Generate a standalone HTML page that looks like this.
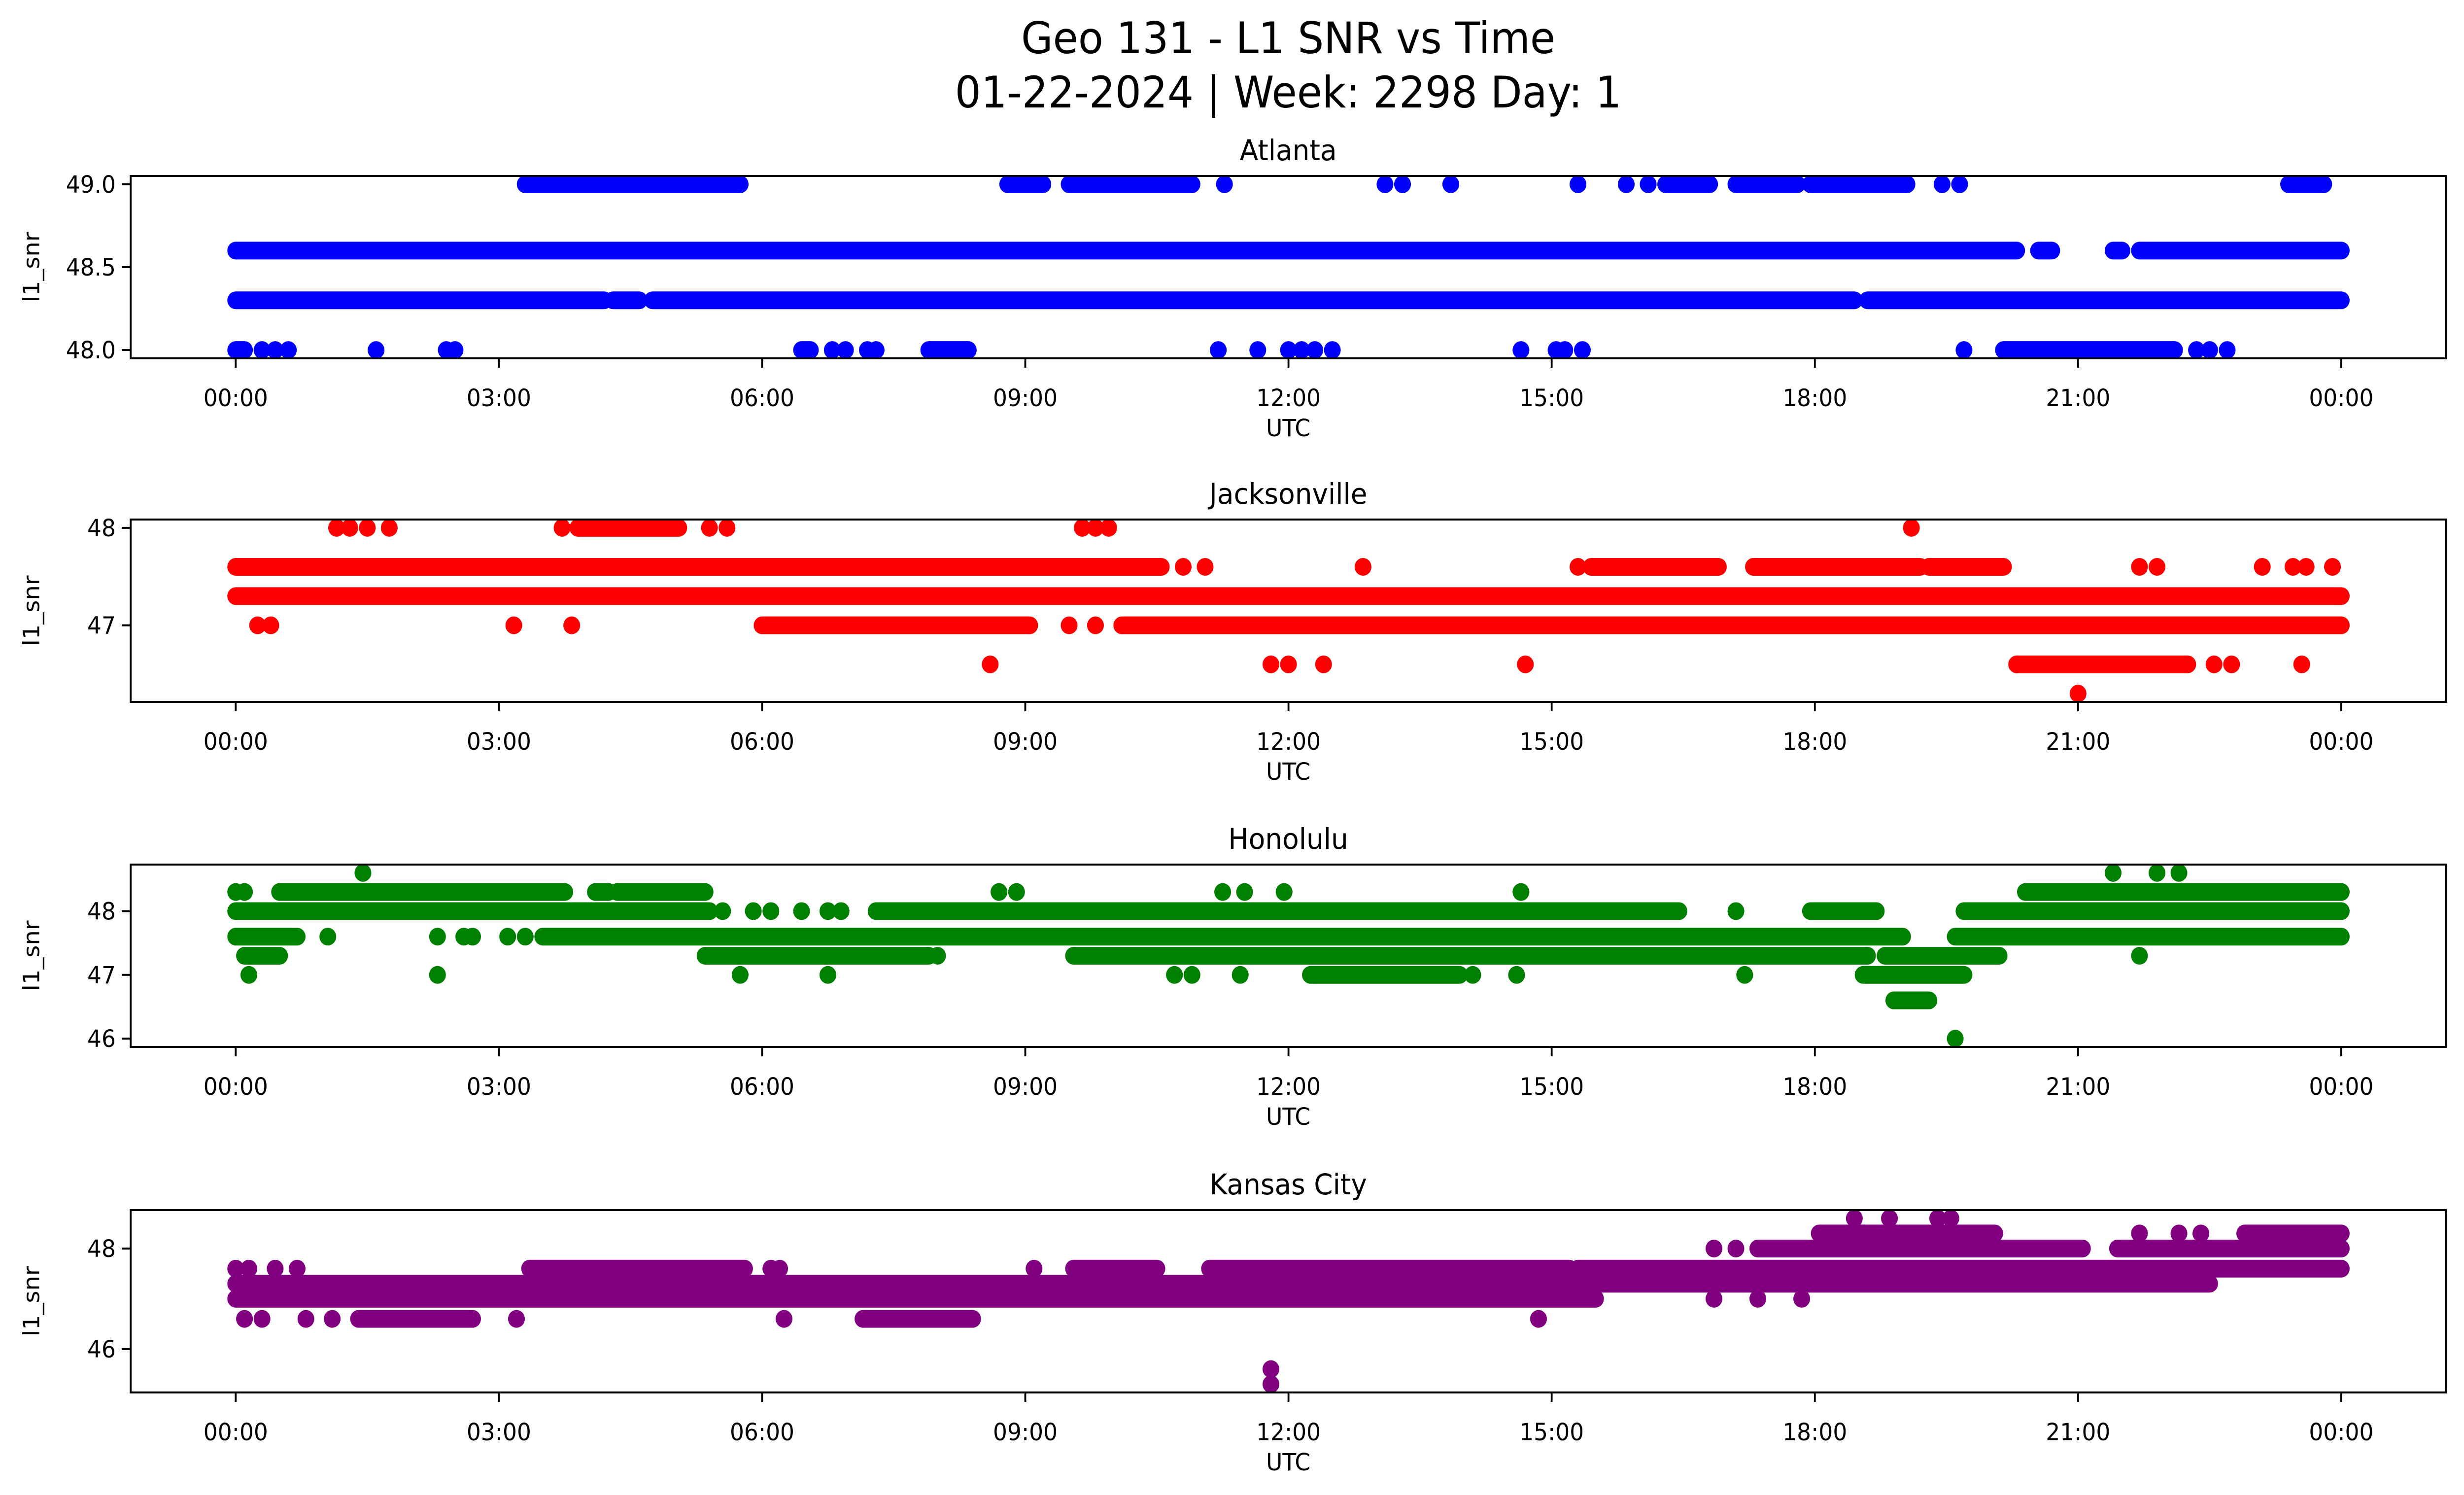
<!DOCTYPE html>
<html><head><meta charset="utf-8"><style>
html,body{margin:0;padding:0;background:#fff;width:100%;height:100%;overflow:hidden;}
svg{display:block;font-family:"DejaVu Sans","Liberation Sans",sans-serif;width:100vw;height:100vh;}
</style></head><body>
<svg id="fig" viewBox="0 0 5279 3033" preserveAspectRatio="none" xmlns="http://www.w3.org/2000/svg">
<rect width="5279" height="3033" fill="#fff"/>
<text x="2760" y="108" font-size="88" text-anchor="middle">Geo 131 - L1 SNR vs Time</text>
<text x="2760" y="218" font-size="88" text-anchor="middle">01-22-2024 | Week: 2298 Day: 1</text>
</svg>
<script>
// ---- data (hours UTC, l1_snr) ----
const stations = ["Atlanta","Jacksonville","Honolulu","Kansas City"];
const colors = ["#0000ff","#ff0000","#008000","#800080"];
const yLims = [[47.95,49.05],[46.215,48.085],[45.87,48.73],[45.135,48.765]];
const yTicks = [[48.0,48.5,49.0],[47,48],[46,47,48],[46,48]];
const yTickLabels = [["48.0","48.5","49.0"],["47","48"],["46","47","48"],["46","48"]];
const xTickHours = [0,3,6,9,12,15,18,21,24];
const xTickLabels = ["00:00","03:00","06:00","09:00","12:00","15:00","18:00","21:00","00:00"];

// dense runs: level, start hour, end hour
const atlRunLevel = [48.6,48.6,48.6,48.6,48.3,48.3,48.3,48.3,49.0,49.0,49.0,49.0,49.0,49.0,49.0,48.0,48.0,48.0,48.0];
const atlRunStart = [0,20.55,21.4,21.7,0,4.3,4.75,18.6,3.3,8.8,9.5,16.3,17.1,17.95,23.4,0,7.9,20.15,6.45];
const atlRunEnd   = [20.3,20.7,21.5,24,4.2,4.6,18.45,24,5.75,9.2,10.9,16.8,17.8,19.05,23.8,0.1,8.35,22.1,6.55];
const atlPtT = [11.27,13.1,13.3,13.85,15.3,15.85,16.1,19.45,19.65,0.3,0.45,0.6,1.6,2.4,2.5,6.8,6.95,7.2,7.3,11.2,11.65,12.0,12.15,12.3,12.5,14.65,15.05,15.15,15.35,19.7,22.35,22.5,22.7];
const atlPtV = [49,49,49,49,49,49,49,49,49,48,48,48,48,48,48,48,48,48,48,48,48,48,48,48,48,48,48,48,48,48,48,48,48];

const jaxRunLevel = [48.0,47.6,47.6,47.6,47.6,47.3,47.0,47.0,46.6];
const jaxRunStart = [3.9,0,15.45,17.3,19.3,0,6.0,10.1,20.3];
const jaxRunEnd   = [5.05,10.55,16.9,19.2,20.15,24,9.05,24,22.25];
const jaxPtT = [1.15,1.3,1.5,1.75,3.72,5.4,5.6,9.65,9.8,9.95,19.1,10.8,11.05,12.85,15.3,21.7,21.9,23.1,23.45,23.6,23.9,0.25,0.4,3.17,3.83,9.5,9.8,8.6,11.8,12.0,12.4,14.7,22.55,22.75,23.55,21.0];
const jaxPtV = [48,48,48,48,48,48,48,48,48,48,48,47.6,47.6,47.6,47.6,47.6,47.6,47.6,47.6,47.6,47.6,47,47,47,47,47,47,46.6,46.6,46.6,46.6,46.6,46.6,46.6,46.6,46.3];

const honRunLevel = [48.3,48.3,48.3,48.3,48.0,48.0,48.0,48.0,47.6,47.6,47.6,47.3,47.3,47.3,47.3,47.0,47.0,46.6];
const honRunStart = [0.5,4.1,4.35,20.4,0,7.3,17.95,19.7,0,3.5,19.6,0.1,5.35,9.55,18.8,12.25,18.55,18.9];
const honRunEnd   = [3.75,4.25,5.35,24,5.4,16.45,18.7,24,0.7,19.0,24,0.5,7.9,18.6,20.1,13.95,19.7,19.3];
const honPtT = [1.45,21.4,21.9,22.15,0,0.1,8.7,8.9,11.25,11.5,11.95,14.65,5.55,5.9,6.1,6.45,6.75,6.9,17.1,1.05,2.3,2.6,2.7,3.1,3.3,8.0,21.7,0.15,2.3,5.75,6.75,10.7,10.9,11.45,14.1,14.6,17.2,19.6];
const honPtV = [48.6,48.6,48.6,48.6,48.3,48.3,48.3,48.3,48.3,48.3,48.3,48.3,48,48,48,48,48,48,48,47.6,47.6,47.6,47.6,47.6,47.6,47.3,47.3,47,47,47,47,47,47,47,47,47,47,46];

const kcRunLevel = [48.3,48.3,48.0,48.0,47.6,47.6,47.6,47.6,47.3,47.0,46.6,46.6];
const kcRunStart = [18.05,22.9,17.35,21.45,3.35,9.55,11.1,15.3,0,0,1.4,7.15];
const kcRunEnd   = [20.05,24,21.05,24,5.8,10.5,15.2,24,22.5,15.5,2.7,8.4];
const kcPtT = [18.45,18.85,19.4,19.55,21.7,22.15,22.4,16.85,17.1,0,0.15,0.45,0.7,6.1,6.2,9.1,16.85,17.35,17.85,0.1,0.3,0.8,1.1,3.2,6.25,14.85,11.8,11.8];
const kcPtV = [48.6,48.6,48.6,48.6,48.3,48.3,48.3,48,48,47.6,47.6,47.6,47.6,47.6,47.6,47.6,47,47,47,46.6,46.6,46.6,46.6,46.6,46.6,46.6,45.6,45.3];

const runLevels = [atlRunLevel,jaxRunLevel,honRunLevel,kcRunLevel];
const runStarts = [atlRunStart,jaxRunStart,honRunStart,kcRunStart];
const runEnds = [atlRunEnd,jaxRunEnd,honRunEnd,kcRunEnd];
const ptTimes = [atlPtT,jaxPtT,honPtT,kcPtT];
const ptVals = [atlPtV,jaxPtV,honPtV,kcPtV];

// ---- layout ----
const NS = "http://www.w3.org/2000/svg";
const svg = document.getElementById("fig");
const L = 280, R = 5240, H = 370;
const tops = [357,1054,1754,2455];
const X0 = 505, X24 = 5016;
const xScale = h => X0 + (X24 - X0) * h / 24;
function mk(tag, attrs, parent){
  const e = document.createElementNS(NS, tag);
  for (const k in attrs) e.setAttribute(k, attrs[k]);
  (parent||svg).appendChild(e);
  return e;
}
const MR = 18;
stations.forEach((name, i) => {
  const top = tops[i], bot = top + H;
  const [y0, y1] = yLims[i];
  const yScale = v => bot - (v - y0) / (y1 - y0) * H;
  const g = mk("g", {});
  
  
  const clipId = "clip" + i;
  const cp = mk("clipPath", {id: clipId}, g);
  mk("rect", {x: L, y: top, width: R - L, height: H}, cp);
  const marks = mk("g", {"clip-path": "url(#" + clipId + ")"}, g);
  
  
  runLevels[i].forEach((lv, j) => {
    const ln = mk("line", {x1: xScale(runStarts[i][j]), x2: xScale(runEnds[i][j]), y1: yScale(lv), y2: yScale(lv), stroke: colors[i], "stroke-width": MR*2, "stroke-linecap": "round"}, marks);
    
    
  });
  ptTimes[i].forEach((t, j) => {
    const c = mk("circle", {cx: xScale(t), cy: yScale(ptVals[i][j]), r: MR, fill: colors[i]}, marks);
    
    
  });
  const frame = mk("rect", {x: L, y: top, width: R - L, height: H, fill: "none", stroke: "#000", "stroke-width": 4}, g);
  
  
  xTickHours.forEach((h, j) => {
    const x = xScale(h);
    mk("line", {x1: x, x2: x, y1: bot, y2: bot + 19, stroke: "#000", "stroke-width": 4}, g);
    const t = mk("text", {x: x, y: bot + 97, "font-size": 48, "text-anchor": "middle"}, g);
    t.textContent = xTickLabels[j];
    
    
  });
  yTicks[i].forEach((v, j) => {
    const y = yScale(v);
    mk("line", {x1: L - 19, x2: L, y1: y, y2: y, stroke: "#000", "stroke-width": 4}, g);
    const t = mk("text", {x: L - 32, y: y + 17, "font-size": 48, "text-anchor": "end"}, g);
    t.textContent = yTickLabels[i][j];
    
    
  });
  const xt = mk("text", {x: (L + R) / 2, y: bot + 158, "font-size": 48, "text-anchor": "middle"}, g);
  xt.textContent = "UTC";
  
  
  const yt = mk("text", {x: 0, y: 0, "font-size": 48, "text-anchor": "middle", transform: "translate(84," + (top + H/2) + ") rotate(-90)"}, g);
  yt.textContent = "l1_snr";
  
  
  const st = mk("text", {x: (L + R) / 2, y: top - 32, "font-size": 58, "text-anchor": "middle"}, g);
  st.textContent = name;
  
  
});
</script>
</body></html>
